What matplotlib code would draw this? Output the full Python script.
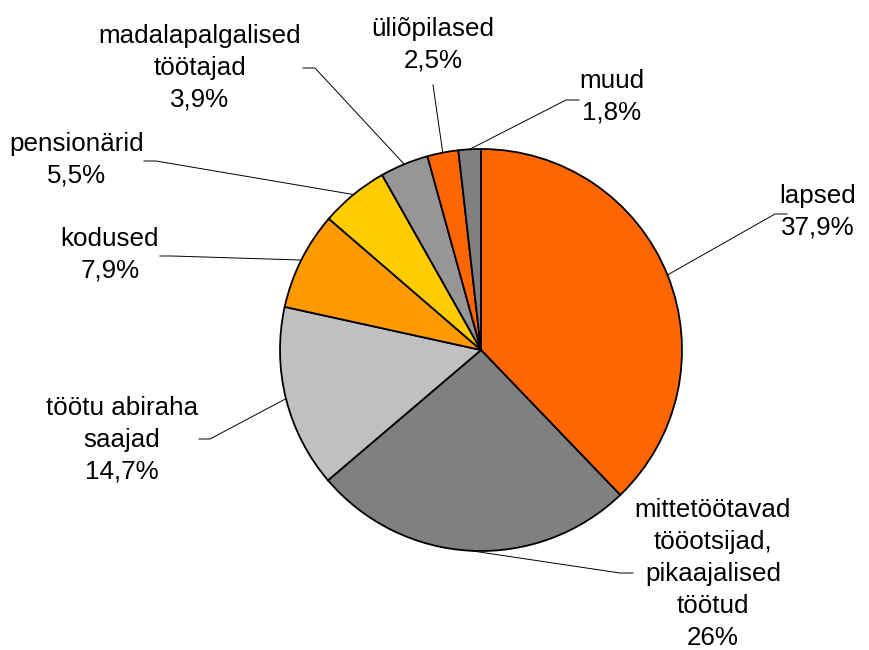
import numpy as np
import matplotlib.pyplot as plt

plt.rcParams['font.family'] = ['Liberation Sans', 'DejaVu Sans']

# andmed
labels = ['lapsed', 'mittetöötavad\ntööotsijad,\npikaajalised\ntöötud',
          'töötu abiraha\nsaajad', 'kodused', 'pensionärid',
          'madalapalgalised\ntöötajad', 'üliõpilased', 'muud']
values = [37.9, 26, 14.7, 7.9, 5.5, 3.9, 2.5, 1.8]
pct_text = ['37,9%', '26%', '14,7%', '7,9%', '5,5%', '3,9%', '2,5%', '1,8%']
colors = ['#FF6600', '#808080', '#C0C0C0', '#FF9900', '#FFCC00',
          '#969696', '#FF6600', '#808080']

# sildi asukohad (px, y alt üles) ja joone murdekoht
label_pos = [(818, 438), (713, 76), (122, 210), (110, 395), (77, 490),
             (200, 582), (433, 605), (612, 553)]
elbow = [(775, 436, 787), (620, 77, 633), (210, 211, 199), (172, 394, 160),
         (156, 489, 144), (315, 582, 303), (433, 565, 433), (566, 550, 579)]

W, H = 869, 650
cx, cy, r = 481, 300, 201

fig = plt.figure(figsize=(W / 100, H / 100), dpi=100)
ax = fig.add_axes([0, 0, 1, 1])

wedges, _ = ax.pie(values, colors=colors, startangle=90, counterclock=False,
                   center=(cx, cy), radius=r,
                   wedgeprops=dict(edgecolor='black', linewidth=1.3))
ax.set_xlim(0, W)
ax.set_ylim(0, H)
ax.set_aspect('equal')
ax.axis('off')

for w, lab, pct, pos, el in zip(wedges, labels, pct_text, label_pos, elbow):
    ang = np.deg2rad((w.theta1 + w.theta2) / 2)
    x0 = cx + r * np.cos(ang)
    y0 = cy + r * np.sin(ang)
    ax.plot([x0, el[0], el[2]], [y0, el[1], el[1]], color='black', lw=0.7)
    ax.text(pos[0], pos[1], lab + '\n' + pct, ha='center', va='center',
            fontsize=18.7, linespacing=1.42)

fig.savefig('out.png', dpi=100)
